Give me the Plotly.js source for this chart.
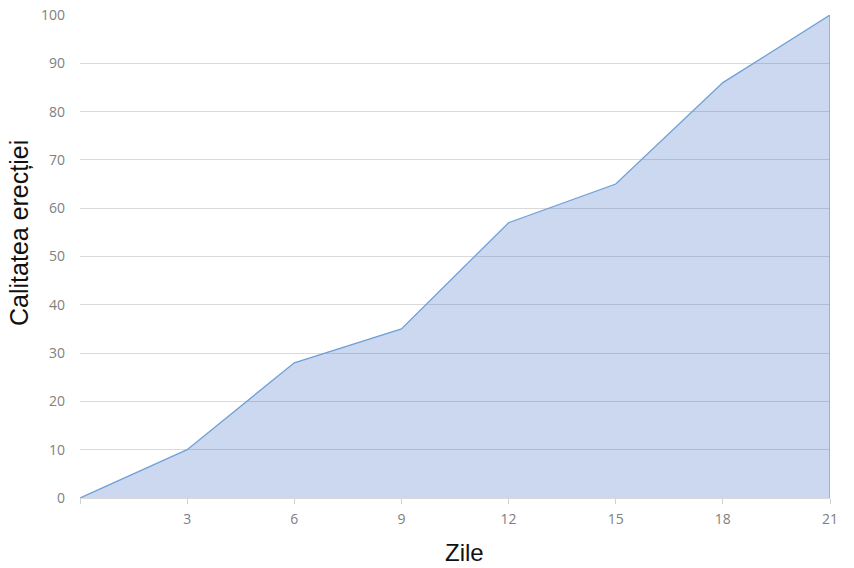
<!DOCTYPE html>
<html>
<head>
<meta charset="utf-8">
<script src="https://cdn.plot.ly/plotly-3.0.1.min.js"></script>
<style>html,body{margin:0;padding:0;background:#fff;}#chart{width:854px;height:568px;}</style>
</head>
<body>
<div id="chart"></div>
<script>
const days = [0, 3, 6, 9, 12, 15, 18, 21];
const quality = [0, 10, 28, 35, 57, 65, 86, 100];
const xTicks = [0, 3, 6, 9, 12, 15, 18, 21];
const xTickLabels = ['', '3', '6', '9', '12', '15', '18', '21'];
const yTicks = [0, 10, 20, 30, 40, 50, 60, 70, 80, 90, 100];
const xTitle = 'Zile';
const yTitle = 'Calitatea erecției';

const last = days.length - 1;
const trace = {
  x: days.concat([days[last]]),
  y: quality.concat([0]),
  type: 'scatter',
  mode: 'lines',
  fill: 'tozeroy',
  fillcolor: 'rgba(68,114,196,0.28)',
  line: {color: '#6fa0d8', width: 1.3},
  hoverinfo: 'skip'
};

const titleFont = {size: 24, color: '#111', family: 'Liberation Sans, Arial, sans-serif'};

const layout = {
  width: 854, height: 568,
  margin: {l: 80, r: 24, t: 15, b: 70},
  paper_bgcolor: '#fff', plot_bgcolor: '#fff',
  showlegend: false,
  font: {family: 'Open Sans, sans-serif', color: '#808080', size: 14},
  xaxis: {
    range: [0, 21],
    tickvals: xTicks, ticktext: xTickLabels,
    ticks: 'outside', ticklen: 5, tickcolor: '#d0d0d0', tickwidth: 1,
    showgrid: false, zeroline: false,
    showline: true, linecolor: '#d9d9d9',
    tickfont: {size: 14, color: '#808080'},
    ticklabelstandoff: 3
  },
  yaxis: {
    range: [0, 100],
    tickvals: yTicks,
    showgrid: true, gridcolor: '#d9d9d9', gridwidth: 1,
    zeroline: false, showline: false, ticks: '',
    tickfont: {size: 14, color: '#808080'},
    ticklabelstandoff: 14
  },
  annotations: [
    {text: xTitle, xref: 'paper', yref: 'paper', x: 0.512, y: 0, xanchor: 'center', yanchor: 'middle',
     yshift: -54, showarrow: false, font: titleFont},
    {text: yTitle, xref: 'paper', yref: 'paper', x: 0, y: 0.5487, xanchor: 'center', yanchor: 'middle',
     xshift: -61, textangle: -90, showarrow: false, font: {size: 25, color: '#111', family: 'Liberation Sans, Arial, sans-serif'}}
  ]
};

Plotly.newPlot('chart', [trace], layout, {displayModeBar: false, staticPlot: true});
</script>
</body>
</html>
